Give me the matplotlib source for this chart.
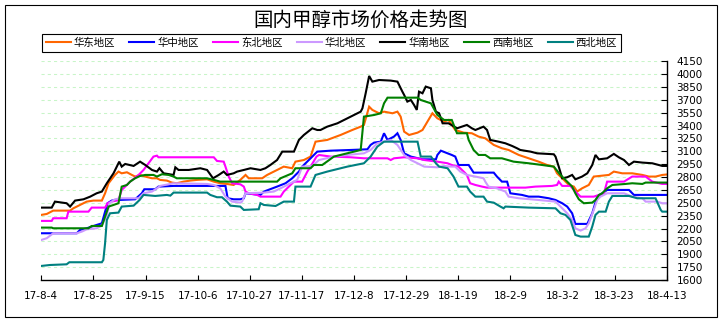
import matplotlib
matplotlib.use('Agg')
import matplotlib.pyplot as plt
import matplotlib.patches as mpatches
import pandas as pd

plt.rcParams['font.family'] = ['Noto Sans CJK SC', 'DejaVu Sans']

title = '国内甲醇市场价格走势图'
start = '2017-08-04'
end = '2018-04-13'
tick_labels = ['17-8-4', '17-8-25', '17-9-15', '17-10-6', '17-10-27', '17-11-17',
               '17-12-8', '17-12-29', '18-1-19', '18-2-9', '18-3-2', '18-3-23', '18-4-13']
y_ticks = [1600, 1750, 1900, 2050, 2200, 2350, 2500, 2650, 2800, 2950,
           3100, 3250, 3400, 3550, 3700, 3850, 4000, 4150]

names = ['华东地区', '华中地区', '东北地区', '华北地区', '华南地区', '西南地区', '西北地区']
colors = ['#FF6600', '#0000FF', '#FF00FF', '#CC99FF', '#000000', '#008000', '#008080']

# (days since 17-8-4, price)
east = [(0,2359),(2.2,2370),(4.8,2409),(11.6,2409),(12.9,2436),(15.6,2475),(18.3,2514),(21,2526),
        (24.4,2526),(25.7,2611),(27.1,2728),(29.7,2825),(31.1,2864),(32.4,2844),(34.5,2856),(36.5,2825),
        (37.8,2806),(39.8,2825),(41.9,2806),(44.6,2786),(46.6,2786),(47.9,2767),(50.6,2759),(52.6,2736),
        (54.6,2728),(57.3,2747),(60,2759),(62.7,2767),(66.8,2774),(69.5,2747),(72.1,2728),(74.8,2720),
        (77.5,2708),(80.2,2767),(82.3,2825),(83.6,2786),(89,2786),(91,2825),(93.7,2864),(97.7,2922),
        (101.1,2903),(102.4,2980),(105.8,2999),(108.5,3039),(110.5,3213),(115.2,3233),(120.6,3291),
        (125.3,3349),(128.7,3388),(130,3408),(132.1,3621),(133.4,3583),(136.1,3544),(138.1,3563),
        (141.5,3544),(143.5,3563),(144.8,3505),(146.2,3330),(148.2,3291),(151.6,3318),(153.6,3349),
        (155.6,3447),(157.6,3544),(159.6,3485),(162.3,3447),(164.1,3466),(166.8,3349),(170.2,3318),
        (173.5,3311),(176.2,3272),(178.9,3252),(182.3,3175),(185.6,3136),(188.3,3116),(192.4,3058),
        (196.4,3019),(200.4,2980),(203.8,2941),(206.5,2922),(207.8,2844),(209.9,2786),(212.6,2708),
        (214.6,2689),(215.9,2631),(217.9,2669),(220.6,2708),(222.6,2806),(228.7,2825),(230.7,2864),
        (234.1,2844),(238.1,2844),(242.2,2825),(244.8,2806),(247.5,2806),(250.2,2825),(252,2830)]

central = [(0,2145),(14.3,2145),(15.6,2184),(18.3,2203),(22.3,2242),(24.4,2261),(25.7,2397),(26.7,2495),
           (28.4,2526),(31.1,2533),(37.8,2541),(40.5,2611),(41.5,2658),(45.9,2658),(47.2,2689),(53.3,2697),
           (74.2,2697),(75.1,2553),(77.5,2541),(80.2,2541),(81.6,2553),(82.3,2611),(88.3,2592),(89.7,2631),
           (95,2689),(98.4,2728),(101.1,2786),(103.8,2864),(105.1,2922),(108.5,3019),(111.2,3097),
           (116.6,3108),(124.6,3116),(131.4,3124),(132.7,3175),(134.1,3202),(136.8,3213),(138.1,3311),
           (139.5,3233),(142.1,3272),(143.5,3311),(144.8,3233),(146.2,3077),(148.9,3039),(153.6,3007),
           (159,3007),(159.6,3058),(161,3108),(163.7,3077),(165.4,3058),(166.8,3039),(168.1,2941),
           (172.2,2941),(174.2,2852),(182.3,2852),(183.6,2806),(185.6,2747),(187.7,2747),(189,2611),
           (193.7,2592),(196.4,2572),(200.4,2572),(204.5,2553),(207.2,2533),(209.9,2495),(211.9,2456),
           (213.9,2378),(215.2,2254),(220,2254),(222,2378),(224,2572),(228,2650),(236.8,2650),
           (238.8,2592),(252,2592)]

northeast = [(0,2289),(4.2,2289),(4.8,2320),(10.2,2320),(10.9,2397),(19,2397),(20.3,2444),(25.7,2444),
             (26.7,2495),(28.4,2514),(31.1,2533),(32.4,2650),(33.8,2689),(35.8,2747),(39.2,2825),
             (41.2,2883),(43.2,2961),(45.2,3039),(46.6,3050),(47.2,3031),(69.5,3031),(70.8,2988),
             (73.5,2980),(74.2,2922),(75.5,2806),(76.9,2728),(80.2,2716),(81.6,2689),(82.3,2631),
             (83.6,2611),(87,2592),(88.3,2572),(96.4,2572),(97.7,2631),(101.8,2747),(105.1,2747),
             (107.2,2864),(108.5,2922),(110.9,3039),(111.9,3058),(116.6,3039),(124.6,3031),(130,3019),
             (139.5,3019),(140.8,2999),(142.1,3019),(146.2,3031),(151.6,3019),(154.3,2999),(159.6,2980),
             (163.7,2961),(165.4,2941),(168.1,2922),(170.2,2864),(171.5,2825),(172.8,2728),(174.9,2708),
             (177.6,2689),(179.6,2677),(195.1,2677),(199.1,2689),(205.8,2697),(207.8,2708),(208.5,2747),
             (209.9,2697),(213.2,2697),(215.2,2631),(217.3,2572),(222.6,2572),(224.7,2592),(226.7,2611),
             (228,2747),(234.8,2747),(238.1,2806),(243.5,2806),(246.2,2747),(250.2,2720),(252,2720)]

north = [(0,2067),(2.2,2087),(4.8,2145),(14.3,2145),(16.3,2164),(18.3,2191),(22.3,2203),(24.4,2234),
         (26.4,2359),(27.5,2495),(29.7,2541),(31.8,2553),(39.2,2553),(41.2,2611),(44.6,2631),(46.6,2669),
         (47.9,2697),(53.3,2728),(66.8,2720),(69.5,2708),(72.1,2669),(74.2,2572),(76.9,2514),(80.2,2502),
         (80.9,2514),(82.3,2611),(89.7,2619),(93.7,2631),(96.4,2669),(100.4,2728),(103.1,2767),
         (105.1,2922),(109.2,2930),(111.9,2999),(117.9,3039),(123.3,3058),(130,3077),(132.7,3116),
         (135.4,3194),(138.1,3213),(140.8,3233),(143.5,3175),(146.2,3058),(148.9,2999),(151.6,2961),
         (154.3,2922),(159.6,2914),(162.3,2930),(165,2922),(166.8,2922),(168.8,2864),(171.5,2825),
         (174.9,2806),(178.2,2786),(178.9,2747),(180.2,2689),(183.6,2669),(187,2631),(188.3,2572),
         (192.4,2553),(200.4,2533),(207.2,2514),(209.2,2456),(211.9,2378),(213.9,2300),(215.2,2203),
         (217.3,2176),(219.3,2203),(220.6,2261),(222.6,2417),(224,2533),(225.3,2572),(228,2611),
         (234.8,2611),(238.1,2572),(242.2,2553),(243.5,2514),(248.2,2514),(250.2,2495),(252,2495)]

south = [(0,2444),(4.2,2444),(5.5,2514),(10.2,2495),(11.6,2456),(13.6,2526),(17,2541),(19.7,2572),
         (22.3,2611),(24.4,2631),(26.4,2728),(29.1,2844),(31.4,2980),(32.4,2922),(33.8,2953),(37.2,2930),
         (39.8,2980),(41.9,2941),(44.6,2883),(46.6,2864),(47.6,2903),(49.3,2844),(53.3,2825),(54,2914),
         (55.3,2883),(59.4,2883),(64.1,2903),(66.8,2883),(69.2,2786),(71.5,2825),(73.5,2864),(74.8,2825),
         (77.5,2844),(78.9,2864),(81.6,2883),(84.3,2903),(88.3,2883),(90.3,2903),(92.3,2941),(95,2999),
         (97.1,3097),(101.8,3097),(103.8,3233),(105.8,3291),(109.2,3369),(111.2,3349),(112.5,3349),
         (115.2,3388),(119.3,3427),(122,3466),(126,3524),(128.7,3563),(129.4,3602),(130.7,3777),
         (132.1,3979),(133.4,3913),(136.1,3932),(140.8,3925),(143.5,3913),(145.5,3796),(146.2,3758),
         (147.5,3680),(148.9,3699),(150.2,3641),(151.3,3583),(152.2,3796),(153.6,3777),(154.9,3855),
         (157,3835),(157.6,3699),(159,3563),(160.3,3544),(161.7,3427),(164.1,3427),(167.5,3369),
         (171.5,3408),(173.5,3369),(174.9,3349),(178.2,3388),(179.6,3349),(180.9,3233),(184.3,3213),
         (187,3194),(189.7,3163),(191.7,3136),(193,3116),(197.1,3097),(199.8,3077),(206.5,3066),
         (207.2,3039),(208.5,2922),(209.9,2786),(211.9,2798),(213.9,2825),(215.2,2774),(217.9,2806),
         (220,2844),(222,2941),(223.3,3058),(224.7,3007),(228,3019),(230.7,3070),(232.7,3031),
         (234.8,2999),(236.8,2941),(238.8,2980),(242.2,2969),(246.2,2961),(250.2,2930),(252,2930)]

southwest = [(0,2211),(4.2,2211),(4.8,2203),(19,2203),(20.3,2230),(24.4,2230),(25.7,2339),(27.1,2456),
             (29.1,2475),(31.1,2495),(32.4,2689),(34.5,2708),(35.8,2747),(37.8,2786),(39.8,2813),
             (41.9,2825),(45.2,2825),(46.6,2806),(48.6,2833),(51.3,2825),(53.3,2806),(54.6,2786),
             (66.8,2786),(69.5,2767),(72.1,2747),(95,2747),(96.4,2786),(101.1,2844),(102.4,2903),
             (108.5,2903),(109.8,2941),(113.2,2941),(117.9,3039),(128.7,3116),(130,3505),(134.1,3524),
             (136.8,3544),(138.1,3660),(139.5,3726),(151.6,3726),(152.9,3699),(157,3660),(159.6,3524),
             (162.3,3466),(165.4,3466),(167.5,3311),(171.5,3311),(172.2,3233),(174.2,3116),(176.2,3058),
             (178.9,3058),(180.9,3019),(185.6,3019),(190.3,2980),(196.4,2961),(201.8,2941),(206.5,2922),
             (209.2,2825),(211.2,2767),(213.9,2689),(215.2,2611),(216.6,2541),(218.6,2495),(222,2502),
             (223.3,2533),(224.7,2592),(226,2611),(228,2669),(230.1,2708),(235.4,2720),(238.1,2728),
             (242.2,2720),(243.5,2736),(252,2736)]

northwest = [(0,1764),(3.5,1775),(10.2,1783),(11.3,1807),(24.4,1807),(25,1834),(25.7,2028),(26.4,2300),
             (27.7,2378),(31.1,2386),(32.4,2456),(37.2,2467),(39.6,2533),(41.2,2592),(45.9,2580),
             (50.6,2592),(52,2584),(53.3,2619),(66.8,2619),(68.1,2592),(70.8,2565),(72.8,2565),
             (74.8,2514),(76.2,2467),(80.2,2456),(81.6,2417),(87.6,2425),(88.3,2495),(89.7,2475),
             (94.4,2463),(97.7,2514),(101.8,2514),(102.4,2689),(108.5,2689),(110.5,2825),(115.2,2864),
             (123.3,2922),(130,2961),(132.7,3039),(135.4,3155),(138.1,3213),(151.6,3213),(152.9,3039),
             (157,3039),(159,2961),(160.3,2922),(163.7,2903),(166.1,2806),(168.1,2689),(171.5,2689),
             (172.8,2631),(174.9,2572),(178.2,2572),(179.6,2514),(182.3,2502),(185,2456),(186.3,2436),
             (187,2456),(196.4,2444),(207.2,2436),(209.2,2378),(211.2,2359),(213.2,2300),(215.2,2125),
             (217.3,2106),(220.6,2106),(222,2223),(223.3,2359),(224.7,2397),(227.4,2397),(228.7,2514),
             (230.1,2580),(236.8,2580),(240.1,2553),(247.5,2553),(249.6,2417),(250.2,2397),(252,2397)]

series = [east, central, northeast, north, south, southwest, northwest]

W, H = 723, 323
fig = plt.figure(figsize=(W / 100, H / 100), dpi=100)
ax = fig.add_axes([41.3 / W, 1 - 280 / H, (666.7 - 41.3) / W, (280 - 61.3) / H])

t0 = pd.Timestamp(start)
for name, color, data in zip(names, colors, series):
    days = [d for d, _ in data]
    vals = [v for _, v in data]
    x = t0 + pd.to_timedelta(days, unit='D')
    ax.plot(x, vals, color=color, lw=1.5, label=name, solid_joinstyle='miter')

tick_pos = pd.to_datetime(['20' + t for t in tick_labels], format='%Y-%m-%d')
ax.set_xticks(tick_pos)
ax.set_xticklabels(tick_labels)
ax.set_xlim(t0, pd.Timestamp(end))
ax.set_ylim(y_ticks[0], y_ticks[-1])
ax.set_yticks(y_ticks)
ax.set_yticklabels([str(v) for v in y_ticks])

ax.yaxis.tick_right()
ax.spines['left'].set_visible(False)
ax.spines['top'].set_visible(False)
ax.spines['right'].set_linewidth(1.0)
ax.spines['bottom'].set_linewidth(1.0)
ax.tick_params(axis='y', direction='in', length=4, width=0.8, pad=7, labelsize=7.5)
ax.tick_params(axis='x', direction='in', length=3.5, width=0.8, pad=8, labelsize=7.5)
for lbl in ax.get_yticklabels() + ax.get_xticklabels():
    lbl.set_family('DejaVu Sans')

ax.set_axisbelow(True)
ax.yaxis.grid(True, color='#C8F5C8', linestyle=(0, (3, 3)), linewidth=0.75)

leg = ax.legend(loc='center', bbox_to_anchor=(331.5 / W, 1 - 43 / H), bbox_transform=fig.transFigure,
                ncol=7, fontsize=7.5, frameon=True, fancybox=False, framealpha=1,
                edgecolor='black', borderpad=0.35, borderaxespad=0, handlelength=2.4,
                handletextpad=0.3, columnspacing=1.35)
leg.get_frame().set_linewidth(0.8)

fig.text(361 / W, 1 - 20 / H, title, ha='center', va='center', fontsize=14)

fig.add_artist(mpatches.Rectangle((5 / W, 1 - 317 / H), 712 / W, 312 / H, transform=fig.transFigure,
                                  fill=False, edgecolor='black', lw=0.8))

fig.savefig('out.png', dpi=100)
